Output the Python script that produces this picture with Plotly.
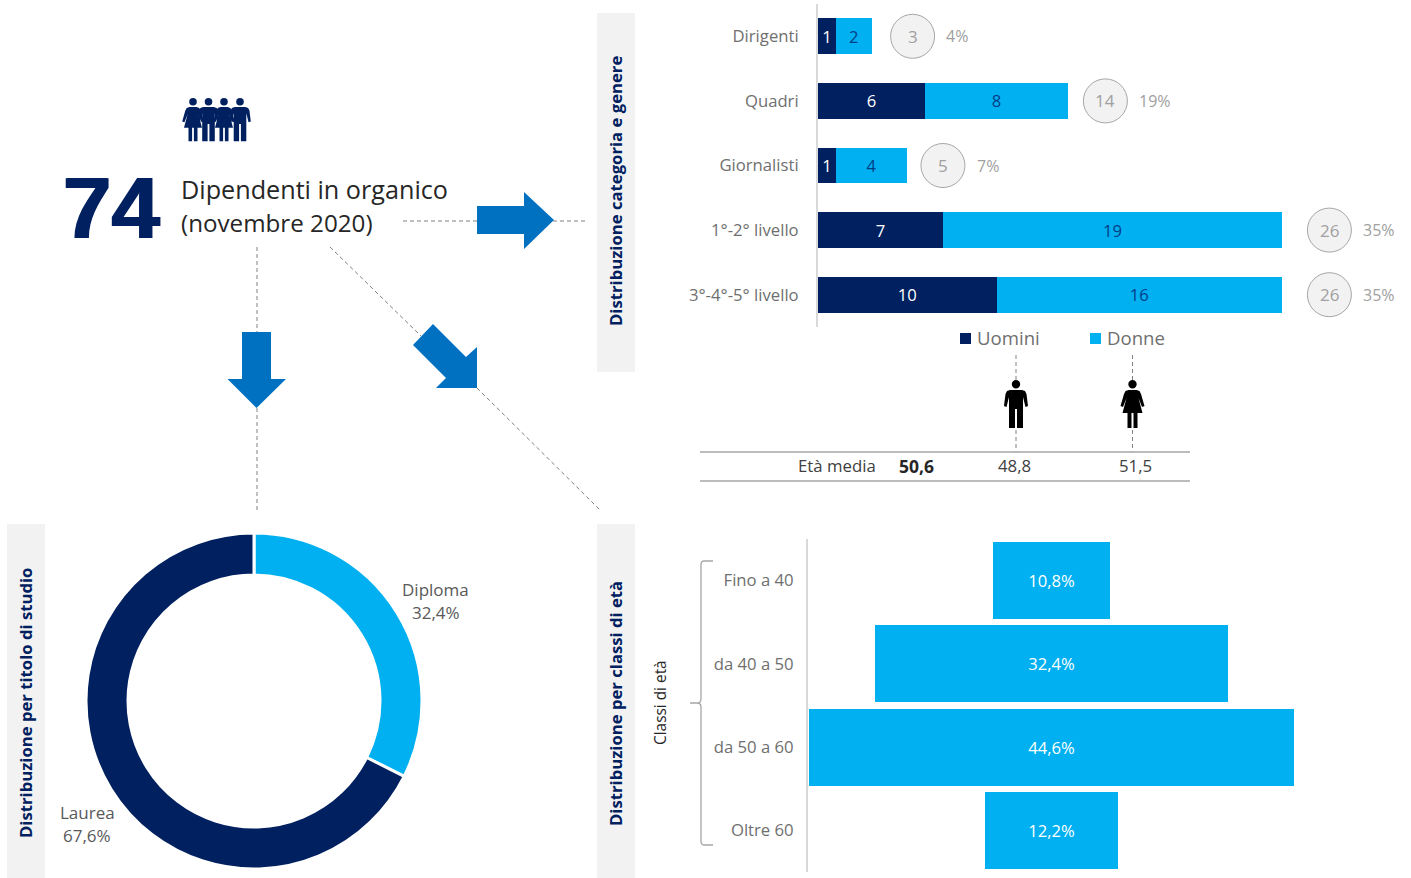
import plotly.graph_objects as go

W, H = 1411, 878
NAVY, CYAN, ARROW = "#002060", "#00B0F0", "#0070C0"
TEXT_GRAY, SOFT_GRAY, RULE = "#6f6f6f", "#a0a0a0", "#a6a6a6"
FONT = "Open Sans"

# Personale per categoria e genere
categories = ["Dirigenti", "Quadri", "Giornalisti", "1°-2° livello", "3°-4°-5° livello"]
men = [1, 6, 1, 7, 10]
women = [2, 8, 4, 19, 16]
totals = [3, 14, 5, 26, 26]
shares = ["4%", "19%", "7%", "35%", "35%"]

# Età media
age_labels = ["Età media", "50,6", "48,8", "51,5"]

# Classi di età
age_classes = ["Fino a 40", "da 40 a 50", "da 50 a 60", "Oltre 60"]
age_shares = [10.8, 32.4, 44.6, 12.2]

# Titolo di studio
degrees = ["Diploma", "Laurea"]
degree_shares = [32.4, 67.6]

headcount = "74"


def px(x):
    return x / W


def py(y):
    return 1 - y / H


def comma(v):
    return f"{v:.1f}".replace(".", ",")


def path_of(points, close=True):
    body = " ".join(("M" if i == 0 else "L") + f" {px(x):.5f} {py(y):.5f}" for i, (x, y) in enumerate(points))
    return body + (" Z" if close else "")


shapes = []
annotations = []


def add_path(d, color):
    shapes.append(dict(type="path", xref="paper", yref="paper", path=d,
                       fillcolor=color, line=dict(width=0), layer="above"))


def panel(x0, y0, x1, y1):
    shapes.append(dict(type="rect", xref="paper", yref="paper", x0=px(x0), x1=px(x1),
                       y0=py(y1), y1=py(y0), fillcolor="#F2F2F2", line=dict(width=0), layer="below"))


def rule(x0, y0, x1, y1, color=RULE, width=1.3, dash="solid"):
    shapes.append(dict(type="line", xref="paper", yref="paper", x0=px(x0), x1=px(x1),
                       y0=py(y0), y1=py(y1), line=dict(color=color, width=width, dash=dash), layer="below"))


def note(x, y, text, size=16, color=TEXT_GRAY, anchor="center", angle=0, font=FONT, **extra):
    font_extra = extra.pop("font_extra", {})
    annotations.append(dict(xref="paper", yref="paper", x=px(x), y=py(y), text=text, showarrow=False,
                            xanchor=anchor, yanchor="middle", textangle=angle,
                            font=dict(size=size, color=color, family=font, **font_extra), **extra))


# Sagome di persona: coordinate relative al centro e alla sommità del capo
MAN = [(-6, 10), (6, 10), (9, 11), (10.5, 14), (12, 26), (9.5, 27), (7, 17), (7, 48), (1, 48), (1, 29),
       (-1, 29), (-1, 48), (-7, 48), (-7, 17), (-9.5, 27), (-12, 26), (-10.5, 14), (-9, 11)]
WOMAN = [(-4, 10), (4, 10), (7, 11), (8.5, 14), (12, 26), (9.5, 27), (6, 18), (10, 33), (5, 33), (5, 48),
         (1, 48), (1, 33), (-1, 33), (-1, 48), (-5, 48), (-5, 33), (-10, 33), (-6, 18), (-9.5, 27),
         (-12, 26), (-8.5, 14), (-7, 11)]


def person(cx, top, outline, color, scale=1.0):
    pts = [(cx + dx * scale, top + dy * scale) for dx, dy in outline]
    add_path(path_of(pts), color)
    r = 4.2 * scale
    shapes.append(dict(type="circle", xref="paper", yref="paper", x0=px(cx - r), x1=px(cx + r),
                       y0=py(top + 2 * r), y1=py(top), fillcolor=color, line=dict(width=0), layer="above"))


# Fasce grigie dei titoli
panel(597, 13, 635, 372)
panel(597, 524, 635, 878)
panel(7, 524, 45, 878)
note(615.5, 191.5, "<b>Distribuzione categoria e genere</b>", size=16.7, color=NAVY, angle=-90)
note(615.5, 703.5, "<b>Distribuzione per classi di età</b>", size=16.7, color=NAVY, angle=-90)
note(25.5, 703.5, "<b>Distribuzione per titolo di studio</b>", size=16.7, color=NAVY, angle=-90)

# Blocco del totale
for cx, outline in zip((193, 208.5, 224, 240), (WOMAN, MAN, WOMAN, MAN)):
    person(cx, 98, outline, NAVY, scale=0.9)
note(61, 207, f"<b>{headcount}</b>", size=87, color=NAVY, anchor="left", font="Liberation Sans",
     font_extra=dict(shadow=f"1px 0 {NAVY}, -1px 0 {NAVY}"))
note(178.5, 205.5, "Dipendenti in organico<br><span style='font-size:24.2px'>(novembre 2020)</span>",
     size=25.2, color="#262626", anchor="left", align="left")

# Collegamenti tratteggiati
DASH = "4px,3px"
rule(403, 221, 477, 221, "#808080", 1, DASH)
rule(553, 221, 587, 221, "#808080", 1, DASH)
rule(257, 247, 257, 332, "#808080", 1, DASH)
rule(257, 408, 257, 512, "#808080", 1, DASH)
rule(330, 247, 421, 336, "#808080", 1, DASH)
rule(477, 388, 600, 510, "#808080", 1, DASH)

# Frecce
add_path(path_of([(477, 206), (524, 206), (524, 192), (554, 220), (524, 249), (524, 234), (477, 234)]), ARROW)
add_path(path_of([(242, 332), (271, 332), (271, 379), (286, 379), (256.5, 408), (227.5, 379), (242, 379)]), ARROW)
add_path(path_of([(433, 324), (466, 357), (477, 347), (477, 388), (436, 388), (446, 378), (413, 345)]), ARROW)

# Legenda
for x, label, color in ((960, "Uomini", NAVY), (1090, "Donne", CYAN)):
    shapes.append(dict(type="rect", xref="paper", yref="paper", x0=px(x), x1=px(x + 11),
                       y0=py(344), y1=py(333), fillcolor=color, line=dict(width=0)))
    note(x + 15, 337.5, label, size=18.6, anchor="left")

# Icone ed età media
for x, outline in ((1016, MAN), (1132.5, WOMAN)):
    rule(x, 355, x, 380, "#808080", 1, DASH)
    rule(x, 430, x, 452, "#808080", 1, DASH)
    person(x, 380, outline, "#000000")
rule(700, 452, 1190, 452, RULE, 1.3)
rule(700, 481, 1190, 481, RULE, 1.3)
note(878, 465.5, age_labels[0], size=16.8, color="#404040", anchor="right")
note(916, 465.5, f"<b>{age_labels[1]}</b>", size=17.5, color="#262626")
note(1014, 465.5, age_labels[2], size=16.8, color="#404040")
note(1135, 465.5, age_labels[3], size=16.8, color="#404040")

# Graffa delle classi di età
shapes.append(dict(type="path", xref="paper", yref="paper", layer="below", line=dict(color=RULE, width=1.3),
                   path=" ".join([
                       f"M {px(713)} {py(561)} L {px(704)} {py(561)} Q {px(701)} {py(561)} {px(701)} {py(565)}",
                       f"L {px(701)} {py(699)} Q {px(701)} {py(703)} {px(697)} {py(703)} L {px(690)} {py(703)}",
                       f"M {px(697)} {py(703)} Q {px(701)} {py(703)} {px(701)} {py(707)}",
                       f"L {px(701)} {py(841)} Q {px(701)} {py(845)} {px(704)} {py(845)} L {px(713)} {py(845)}",
                   ])))
note(660, 703, "Classi di età", size=15.4, color="#262626", angle=-90)

# Etichette della ciambella
note(435.5, 589, degrees[0], size=17, color="#595959")
note(435.5, 612.5, f"{comma(degree_shares[0])}%", size=17, color="#595959")
note(87, 812.5, degrees[1], size=17, color="#595959")
note(87, 835.5, f"{comma(degree_shares[1])}%", size=17, color="#595959")

fig = go.Figure()

# Barre impilate per categoria
BAR_WIDTH = 0.556
BAR_TEXT = 16.6
fig.add_trace(go.Bar(y=categories, x=men, orientation="h", name="Uomini", width=BAR_WIDTH,
                     marker=dict(color=NAVY, line=dict(width=0)), text=men, textposition="inside",
                     insidetextanchor="middle", textangle=0, constraintext="none",
                     textfont=dict(color="white", size=BAR_TEXT, family=FONT), xaxis="x", yaxis="y"))
fig.add_trace(go.Bar(y=categories, x=women, orientation="h", name="Donne", width=BAR_WIDTH,
                     marker=dict(color=CYAN, line=dict(width=0)), text=women, textposition="inside",
                     insidetextanchor="middle", textangle=0, constraintext="none",
                     textfont=dict(color="#003E8A", size=BAR_TEXT, family=FONT), xaxis="x", yaxis="y"))

# Cerchi dei totali e quote percentuali, a destra di ogni barra
badge_gap = (2.3, 2.1, 2.0, 2.65, 2.65)
badge_x = [t + g for t, g in zip(totals, badge_gap)]
fig.add_trace(go.Scatter(y=categories, x=badge_x, mode="markers",
                         marker=dict(size=44, color="#F2F2F2", line=dict(color="#A6A6A6", width=1)),
                         xaxis="x", yaxis="y"))
for cat, bx, total, share in zip(categories, badge_x, totals, shares):
    annotations.append(dict(xref="x", yref="y", x=bx, y=cat, text=str(total), showarrow=False,
                            font=dict(size=17, color=SOFT_GRAY, family=FONT)))
    annotations.append(dict(xref="x", yref="y", x=bx + 1.78, y=cat, text=share, showarrow=False,
                            xanchor="left", font=dict(size=16, color=SOFT_GRAY, family=FONT)))

# Piramide delle età, centrata sullo zero
fig.add_trace(go.Bar(y=age_classes, x=age_shares, base=[-v / 2 for v in age_shares], orientation="h", width=0.924,
                     marker=dict(color=CYAN, line=dict(width=0)), text=[comma(v) + "%" for v in age_shares],
                     textposition="inside", insidetextanchor="middle", textangle=0, constraintext="none",
                     textfont=dict(color="white", size=BAR_TEXT, family=FONT), xaxis="x2", yaxis="y2"))

# Ciambella del titolo di studio
fig.add_trace(go.Pie(labels=degrees, values=degree_shares, hole=0.75, sort=False, direction="clockwise", rotation=0,
                     textinfo="none", marker=dict(colors=[CYAN, NAVY], line=dict(color="white", width=3)),
                     domain=dict(x=[px(86), px(422)], y=[py(869), py(533)])))

hidden = dict(showgrid=False, zeroline=False, showticklabels=False, ticks="", showline=False)
fig.update_layout(
    width=W, height=H, autosize=False, margin=dict(l=0, r=0, t=0, b=0, autoexpand=False),
    paper_bgcolor="white", plot_bgcolor="rgba(0,0,0,0)", showlegend=False, barmode="stack",
    font=dict(family=FONT, color=TEXT_GRAY),
    xaxis=dict(domain=[px(818), px(1389.2)], range=[0, 32], **hidden),
    yaxis=dict(domain=[py(327), py(4)], range=[4.5, -0.5], type="category", showgrid=False, zeroline=False,
               showline=True, linecolor="#D9D9D9", linewidth=2, ticks="outside", ticklen=14,
               tickcolor="rgba(0,0,0,0)", tickfont=dict(size=16.7, color=TEXT_GRAY, family=FONT), anchor="x"),
    xaxis2=dict(domain=[px(808), px(1295)], range=[-22.4, 22.4], anchor="y2", **hidden),
    yaxis2=dict(domain=[py(872), py(539)], range=[3.5, -0.5], type="category", showgrid=False, zeroline=False,
                showline=True, linecolor="#D9D9D9", linewidth=2, ticks="outside", ticklen=9,
                tickcolor="rgba(0,0,0,0)", tickfont=dict(size=16.7, color=TEXT_GRAY, family=FONT), anchor="x2"),
    shapes=shapes, annotations=annotations,
)

fig.write_html("out.html", config=dict(displayModeBar=False))
